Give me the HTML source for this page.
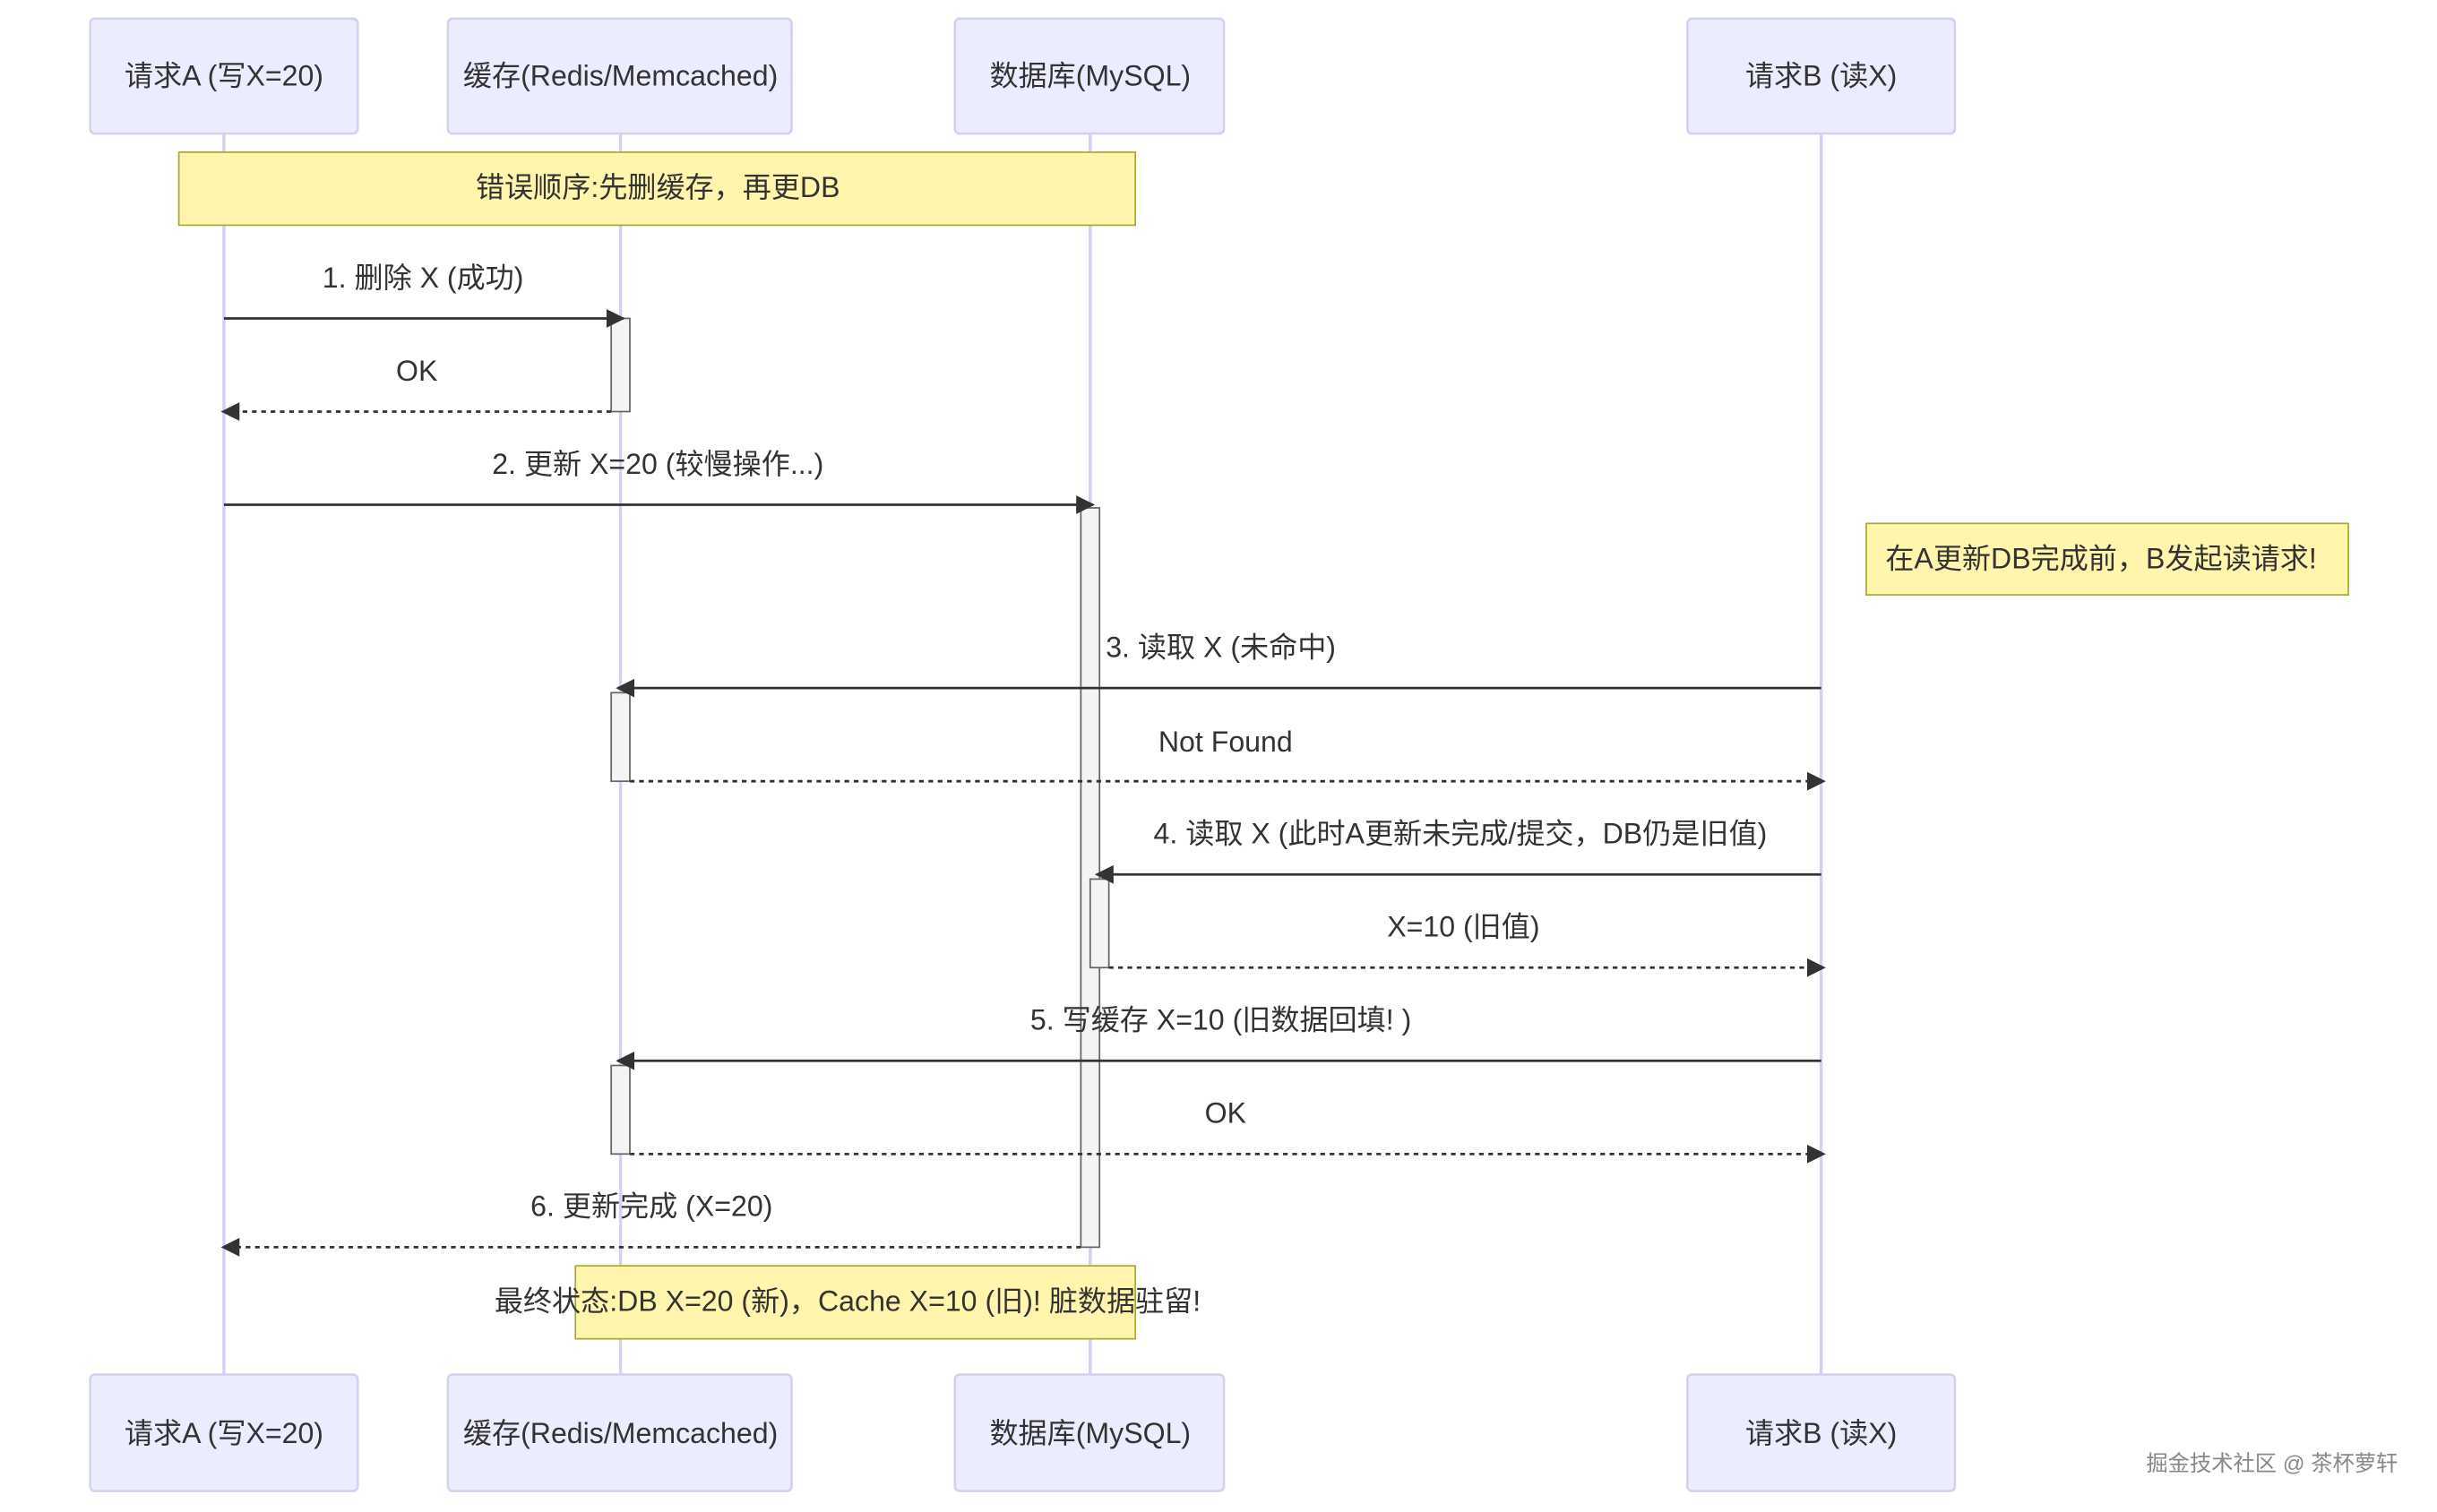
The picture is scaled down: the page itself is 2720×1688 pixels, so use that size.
<!DOCTYPE html>
<html><head><meta charset="utf-8"><style>
html,body{margin:0;padding:0;background:#fff;}
svg{display:block;}
text{font-family:"Liberation Sans","Noto Sans CJK SC",sans-serif;font-size:18.5px;fill:#333;}
.lab{text-anchor:middle;}
</style></head><body>
<svg width="2720" height="1688" viewBox="0 0 1567 973.5" preserveAspectRatio="none" xmlns="http://www.w3.org/2000/svg">
<defs>
<marker id="ah" markerWidth="12" markerHeight="12" refX="11" refY="6" orient="auto" markerUnits="userSpaceOnUse"><path d="M0,0 L12,6 L0,12 z" fill="#333"/></marker>
</defs>
<rect width="1600" height="1000" fill="#fff"/>
<g stroke="#d4d0f2" stroke-width="2">
<line x1="144" y1="86" x2="144" y2="885"/>
<line x1="399" y1="86" x2="399" y2="885"/>
<line x1="701" y1="86" x2="701" y2="885"/>
<line x1="1171" y1="86" x2="1171" y2="885"/>
</g>
<g fill="#ececff" stroke="#d4d0f2" stroke-width="1.5">
<rect x="58" y="12" width="172" height="74" rx="3"/>
<rect x="288" y="12" width="221" height="74" rx="3"/>
<rect x="614" y="12" width="173" height="74" rx="3"/>
<rect x="1085" y="12" width="172" height="74" rx="3"/>
<rect x="58" y="885" width="172" height="75" rx="3"/>
<rect x="288" y="885" width="221" height="75" rx="3"/>
<rect x="614" y="885" width="173" height="75" rx="3"/>
<rect x="1085" y="885" width="172" height="75" rx="3"/>
</g>
<text class="lab" x="144" y="55" fill="#111">请求A (写X=20)</text>
<text class="lab" x="399" y="55" fill="#111">缓存(Redis/Memcached)</text>
<text class="lab" x="701" y="55" fill="#111">数据库(MySQL)</text>
<text class="lab" x="1171" y="55" fill="#111">请求B (读X)</text>
<text class="lab" x="144" y="929" fill="#111">请求A (写X=20)</text>
<text class="lab" x="399" y="929" fill="#111">缓存(Redis/Memcached)</text>
<text class="lab" x="701" y="929" fill="#111">数据库(MySQL)</text>
<text class="lab" x="1171" y="929" fill="#111">请求B (读X)</text>
<g fill="#fff5ad" stroke="#aaaa33" stroke-width="1">
<rect x="115" y="98" width="615" height="47"/>
<rect x="1200" y="337" width="310" height="46"/>
<rect x="370" y="815" width="360" height="47"/>
</g>
<text class="lab" x="423" y="127" fill="#111">错误顺序:先删缓存，再更DB</text>
<text class="lab" x="1351" y="366" fill="#111">在A更新DB完成前，B发起读请求!</text>
<text class="lab" x="545" y="844" fill="#111">最终状态:DB X=20 (新)，Cache X=10 (旧)! 脏数据驻留!</text>
<g fill="#f4f4f4" stroke="#666" stroke-width="1">
<rect x="393" y="205" width="12" height="60"/>
<rect x="695" y="327" width="12" height="476"/>
<rect x="393" y="446" width="12" height="57"/>
<rect x="701" y="566" width="12" height="57"/>
<rect x="393" y="686" width="12" height="57"/>
</g>
<g stroke="#333" stroke-width="1.6" fill="none">
<line x1="144" y1="205" x2="401" y2="205" marker-end="url(#ah)"/>
<line x1="393" y1="265" x2="143" y2="265" stroke-dasharray="3,3" marker-end="url(#ah)"/>
<line x1="144" y1="325" x2="703" y2="325" marker-end="url(#ah)"/>
<line x1="1171" y1="443" x2="397" y2="443" marker-end="url(#ah)"/>
<line x1="405" y1="503" x2="1173" y2="503" stroke-dasharray="3,3" marker-end="url(#ah)"/>
<line x1="1171" y1="563" x2="705" y2="563" marker-end="url(#ah)"/>
<line x1="713" y1="623" x2="1173" y2="623" stroke-dasharray="3,3" marker-end="url(#ah)"/>
<line x1="1171" y1="683" x2="397" y2="683" marker-end="url(#ah)"/>
<line x1="405" y1="743" x2="1173" y2="743" stroke-dasharray="3,3" marker-end="url(#ah)"/>
<line x1="695" y1="803" x2="143" y2="803" stroke-dasharray="3,3" marker-end="url(#ah)"/>
</g>
<text class="lab" x="272" y="185">1. 删除 X (成功)</text>
<text class="lab" x="268" y="245">OK</text>
<text class="lab" x="423" y="305">2. 更新 X=20 (较慢操作...)</text>
<text class="lab" x="785" y="423">3. 读取 X (未命中)</text>
<text class="lab" x="788" y="484">Not Found</text>
<text class="lab" x="939" y="543">4. 读取 X (此时A更新未完成/提交，DB仍是旧值)</text>
<text class="lab" x="941" y="603">X=10 (旧值)</text>
<text class="lab" x="785" y="663">5. 写缓存 X=10 (旧数据回填! )</text>
<text class="lab" x="788" y="723">OK</text>
<text class="lab" x="419" y="783">6. 更新完成 (X=20)</text>
<text x="1380" y="947" style="font-size:14px;fill:#888">掘金技术社区 @ 茶杯萝轩</text>
</svg>
</body></html>
